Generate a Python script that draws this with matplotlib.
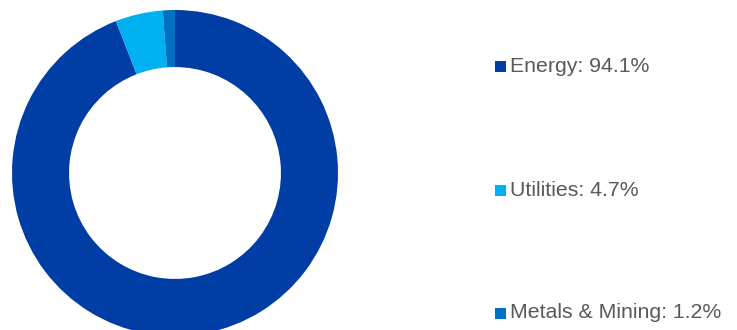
import matplotlib
matplotlib.use("Agg")
import matplotlib.pyplot as plt
from matplotlib.patches import Rectangle

plt.rcParams['font.family'] = ['Liberation Sans', 'DejaVu Sans']

sectors = ["Energy", "Utilities", "Metals & Mining"]
weights = [94.1, 4.7, 1.2]
colors = ["#003DA5", "#00B0F0", "#0070C0"]

W, H, DPI = 737, 330, 100
fig = plt.figure(figsize=(W / DPI, H / DPI), dpi=DPI)

# donut placement in pixels (centre and outer radius)
cx, cy, r = 175, 173, 163
ax = fig.add_axes([(cx - r) / W, (H - cy - r) / H, 2 * r / W, 2 * r / H])
ax.pie(weights, colors=colors, startangle=90, counterclock=False,
       radius=1.0, wedgeprops=dict(width=0.35, linewidth=0))
ax.set_xlim(-1, 1)
ax.set_ylim(-1, 1)
ax.set_aspect('auto')
ax.axis('off')

# legend entries, drawn by hand to keep the wide spacing
legend_y = [66, 190, 313]
for name, val, col, y in zip(sectors, weights, colors, legend_y):
    fig.add_artist(Rectangle((495 / W, (H - y - 5.5) / H), 11 / W, 11 / H,
                             transform=fig.transFigure, facecolor=col,
                             edgecolor='none'))
    fig.text(510 / W, (H - y) / H, f"{name}: {val}%", color="#595959",
             fontsize=15.3, va='center', ha='left')

fig.savefig("out.png", dpi=DPI, facecolor='white')
